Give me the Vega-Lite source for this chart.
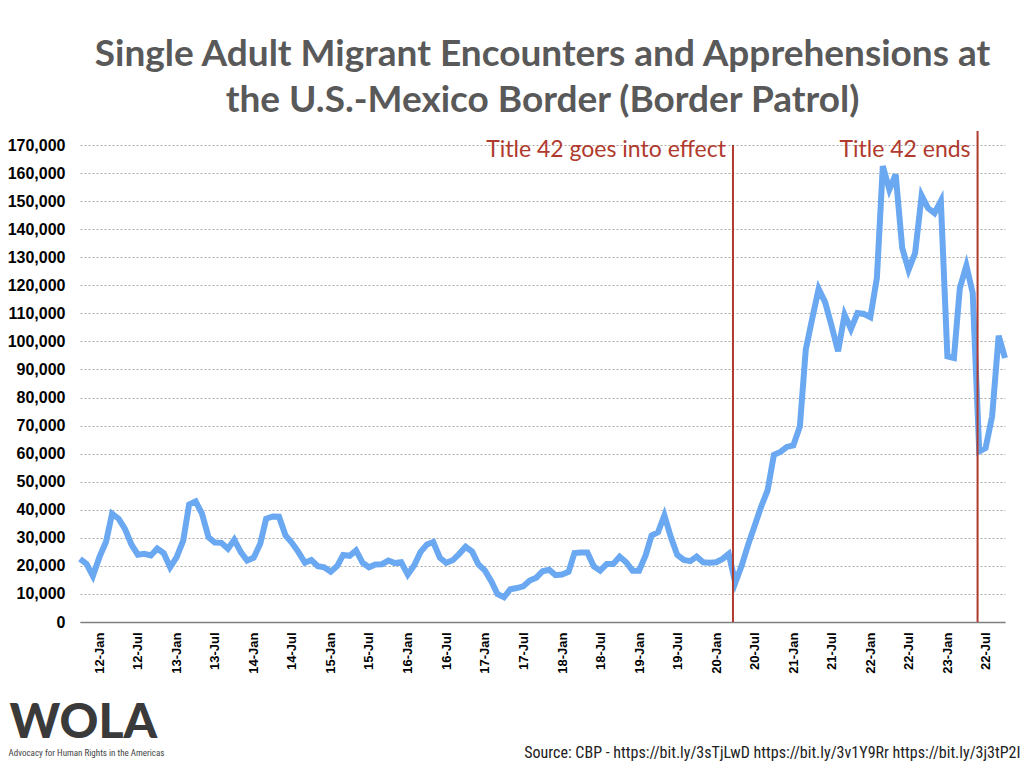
{
  "$schema": "https://vega.github.io/schema/vega-lite/v6.json",
  "width": 925,
  "height": 477,
  "autosize": "none",
  "padding": {"left": 80, "top": 145, "right": 19, "bottom": 146},
  "background": "white",
  "config": {"view": {"stroke": null}},
  "title": {
    "text": ["Single Adult Migrant Encounters and Apprehensions at", "the U.S.-Mexico Border (Border Patrol)"],
    "font": "Lato",
    "fontSize": 37,
    "fontWeight": 700,
    "color": "#595959",
    "anchor": "middle",
    "lineHeight": 46,
    "offset": 10
  },
  "resolve": {"axis": {"y": "independent"}},
  "layer": [
    {
      "data": {
        "format": {"parse": {"date": "date:'%Y-%m'"}},
        "values": [
          {"date": "2011-10", "value": 22500}, {"date": "2011-11", "value": 20700}, {"date": "2011-12", "value": 16400},
          {"date": "2012-01", "value": 23100}, {"date": "2012-02", "value": 28500}, {"date": "2012-03", "value": 38600},
          {"date": "2012-04", "value": 36800}, {"date": "2012-05", "value": 33200}, {"date": "2012-06", "value": 27600},
          {"date": "2012-07", "value": 24000}, {"date": "2012-08", "value": 24300}, {"date": "2012-09", "value": 23700},
          {"date": "2012-10", "value": 26200}, {"date": "2012-11", "value": 24500}, {"date": "2012-12", "value": 19500},
          {"date": "2013-01", "value": 23100}, {"date": "2013-02", "value": 29000}, {"date": "2013-03", "value": 41900},
          {"date": "2013-04", "value": 43000}, {"date": "2013-05", "value": 38600}, {"date": "2013-06", "value": 30200},
          {"date": "2013-07", "value": 28300}, {"date": "2013-08", "value": 28200}, {"date": "2013-09", "value": 26100},
          {"date": "2013-10", "value": 29300}, {"date": "2013-11", "value": 24900}, {"date": "2013-12", "value": 21900},
          {"date": "2014-01", "value": 22900}, {"date": "2014-02", "value": 27900}, {"date": "2014-03", "value": 36800},
          {"date": "2014-04", "value": 37600}, {"date": "2014-05", "value": 37500}, {"date": "2014-06", "value": 30800},
          {"date": "2014-07", "value": 28200}, {"date": "2014-08", "value": 24900}, {"date": "2014-09", "value": 21100},
          {"date": "2014-10", "value": 22100}, {"date": "2014-11", "value": 19900}, {"date": "2014-12", "value": 19500},
          {"date": "2015-01", "value": 17900}, {"date": "2015-02", "value": 20000}, {"date": "2015-03", "value": 23900},
          {"date": "2015-04", "value": 23600}, {"date": "2015-05", "value": 25500}, {"date": "2015-06", "value": 21100},
          {"date": "2015-07", "value": 19500}, {"date": "2015-08", "value": 20500}, {"date": "2015-09", "value": 20600},
          {"date": "2015-10", "value": 21900}, {"date": "2015-11", "value": 21000}, {"date": "2015-12", "value": 21300},
          {"date": "2016-01", "value": 16900}, {"date": "2016-02", "value": 20200}, {"date": "2016-03", "value": 24900},
          {"date": "2016-04", "value": 27600}, {"date": "2016-05", "value": 28500}, {"date": "2016-06", "value": 22900},
          {"date": "2016-07", "value": 21100}, {"date": "2016-08", "value": 22000}, {"date": "2016-09", "value": 24300},
          {"date": "2016-10", "value": 26800}, {"date": "2016-11", "value": 25100}, {"date": "2016-12", "value": 20500},
          {"date": "2017-01", "value": 18300}, {"date": "2017-02", "value": 14400}, {"date": "2017-03", "value": 10000},
          {"date": "2017-04", "value": 8800}, {"date": "2017-05", "value": 11700}, {"date": "2017-06", "value": 12100},
          {"date": "2017-07", "value": 12700}, {"date": "2017-08", "value": 14800}, {"date": "2017-09", "value": 15800},
          {"date": "2017-10", "value": 18100}, {"date": "2017-11", "value": 18600}, {"date": "2017-12", "value": 16700},
          {"date": "2018-01", "value": 16900}, {"date": "2018-02", "value": 17900}, {"date": "2018-03", "value": 24600},
          {"date": "2018-04", "value": 24800}, {"date": "2018-05", "value": 24800}, {"date": "2018-06", "value": 19800},
          {"date": "2018-07", "value": 18300}, {"date": "2018-08", "value": 20700}, {"date": "2018-09", "value": 20700},
          {"date": "2018-10", "value": 23300}, {"date": "2018-11", "value": 21300}, {"date": "2018-12", "value": 18300},
          {"date": "2019-01", "value": 18300}, {"date": "2019-02", "value": 23700}, {"date": "2019-03", "value": 30800},
          {"date": "2019-04", "value": 32000}, {"date": "2019-05", "value": 38000}, {"date": "2019-06", "value": 30200},
          {"date": "2019-07", "value": 23900}, {"date": "2019-08", "value": 22100}, {"date": "2019-09", "value": 21700},
          {"date": "2019-10", "value": 23300}, {"date": "2019-11", "value": 21300}, {"date": "2019-12", "value": 21100},
          {"date": "2020-01", "value": 21300}, {"date": "2020-02", "value": 22500}, {"date": "2020-03", "value": 24300},
          {"date": "2020-04", "value": 14000}, {"date": "2020-05", "value": 20000}, {"date": "2020-06", "value": 27600},
          {"date": "2020-07", "value": 34100}, {"date": "2020-08", "value": 41000}, {"date": "2020-09", "value": 46900},
          {"date": "2020-10", "value": 59600}, {"date": "2020-11", "value": 60600}, {"date": "2020-12", "value": 62400},
          {"date": "2021-01", "value": 62900}, {"date": "2021-02", "value": 69700}, {"date": "2021-03", "value": 97100},
          {"date": "2021-04", "value": 108300}, {"date": "2021-05", "value": 118700}, {"date": "2021-06", "value": 113900},
          {"date": "2021-07", "value": 105600}, {"date": "2021-08", "value": 96500}, {"date": "2021-09", "value": 109500},
          {"date": "2021-10", "value": 104400}, {"date": "2021-11", "value": 110100}, {"date": "2021-12", "value": 109800},
          {"date": "2022-01", "value": 108600}, {"date": "2022-02", "value": 122600}, {"date": "2022-03", "value": 162500},
          {"date": "2022-04", "value": 154100}, {"date": "2022-05", "value": 159500}, {"date": "2022-06", "value": 133300},
          {"date": "2022-07", "value": 125500}, {"date": "2022-08", "value": 131500}, {"date": "2022-09", "value": 152000},
          {"date": "2022-10", "value": 147500}, {"date": "2022-11", "value": 145700}, {"date": "2022-12", "value": 150000},
          {"date": "2023-01", "value": 94700}, {"date": "2023-02", "value": 94100}, {"date": "2023-03", "value": 119000},
          {"date": "2023-04", "value": 127000}, {"date": "2023-05", "value": 117200}, {"date": "2023-06", "value": 60800},
          {"date": "2023-07", "value": 62000}, {"date": "2023-08", "value": 73300}, {"date": "2023-09", "value": 102000},
          {"date": "2023-10", "value": 94100}
        ]
      },
      "mark": {"type": "line", "color": "#6aa8f2", "strokeWidth": 6},
      "encoding": {
        "x": {
          "field": "date",
          "type": "temporal",
          "scale": {"domain": [{"year": 2011, "month": 10, "date": 1}, {"year": 2023, "month": 10, "date": 1}], "nice": false},
          "axis": {
            "values": [
              {"year": 2012, "month": 1, "date": 1}, {"year": 2012, "month": 7, "date": 1},
              {"year": 2013, "month": 1, "date": 1}, {"year": 2013, "month": 7, "date": 1},
              {"year": 2014, "month": 1, "date": 1}, {"year": 2014, "month": 7, "date": 1},
              {"year": 2015, "month": 1, "date": 1}, {"year": 2015, "month": 7, "date": 1},
              {"year": 2016, "month": 1, "date": 1}, {"year": 2016, "month": 7, "date": 1},
              {"year": 2017, "month": 1, "date": 1}, {"year": 2017, "month": 7, "date": 1},
              {"year": 2018, "month": 1, "date": 1}, {"year": 2018, "month": 7, "date": 1},
              {"year": 2019, "month": 1, "date": 1}, {"year": 2019, "month": 7, "date": 1},
              {"year": 2020, "month": 1, "date": 1}, {"year": 2020, "month": 7, "date": 1},
              {"year": 2021, "month": 1, "date": 1}, {"year": 2021, "month": 7, "date": 1},
              {"year": 2022, "month": 1, "date": 1}, {"year": 2022, "month": 7, "date": 1},
              {"year": 2023, "month": 1, "date": 1}, {"year": 2023, "month": 7, "date": 1}
            ],
            "labelExpr": "(year(datum.value) == 2023 && month(datum.value) == 6) ? '22-Jul' : timeFormat(datum.value, '%y-%b')",
            "labelAngle": -90,
            "labelAlign": "right",
            "labelBaseline": "middle",
            "labelFont": "Liberation Sans",
            "labelFontSize": 13,
            "labelFontWeight": "bold",
            "labelColor": "#000000",
            "labelPadding": 10,
            "labelOverlap": false,
            "labelFlush": false,
            "labelBound": false,
            "ticks": false,
            "grid": false,
            "domainColor": "#7f7f7f",
            "domainWidth": 1.5,
            "title": "Source: CBP - https://bit.ly/3sTjLwD https://bit.ly/3v1Y9Rr https://bit.ly/3j3tP2I",
            "titleFont": "Liberation Sans Narrow, Roboto Condensed, Roboto",
            "titleFontSize": 16,
            "titleFontWeight": "normal",
            "titleColor": "#222222",
            "titleAnchor": "end",
            "titleAlign": "right",
            "titleBaseline": "alphabetic",
            "titleX": 940,
            "titleY": 135
          }
        },
        "y": {
          "field": "value",
          "type": "quantitative",
          "scale": {"domain": [0, 170000], "nice": false},
          "axis": {
            "values": [0, 10000, 20000, 30000, 40000, 50000, 60000, 70000, 80000, 90000, 100000, 110000, 120000, 130000, 140000, 150000, 160000, 170000],
            "format": ",d",
            "labelFont": "Liberation Sans",
            "labelFontSize": 16,
            "labelFontWeight": "bold",
            "labelColor": "#000000",
            "labelPadding": 15,
            "ticks": false,
            "domain": false,
            "grid": true,
            "gridColor": "#a8a8a8",
            "gridDash": [2, 2],
            "gridWidth": 1,
            "title": "WOLA",
            "titleAngle": 0,
            "titleAlign": "left",
            "titleBaseline": "alphabetic",
            "titleX": -71,
            "titleY": 592,
            "titleFont": "Lato",
            "titleFontSize": 48,
            "titleFontWeight": 900,
            "titleColor": "#3a3a3a"
          }
        }
      }
    },
    {
      "data": {
        "format": {"parse": {"date": "date:'%Y-%m-%d'"}},
        "values": [{"date": "2020-03-21", "event": "Title 42 goes into effect"}]
      },
      "mark": {"type": "rule", "color": "#b03a2e", "strokeWidth": 2},
      "encoding": {
        "x": {"field": "date", "type": "temporal"},
        "y": {"datum": 0, "type": "quantitative", "axis": null},
        "y2": {"datum": 170000}
      }
    },
    {
      "data": {
        "format": {"parse": {"date": "date:'%Y-%m-%d'"}},
        "values": [{"date": "2023-05-24", "event": "Title 42 ends"}]
      },
      "mark": {"type": "rule", "color": "#b03a2e", "strokeWidth": 2},
      "encoding": {
        "x": {"field": "date", "type": "temporal"},
        "y": {"datum": 0, "type": "quantitative", "axis": null},
        "y2": {"datum": 175000}
      }
    },
    {
      "data": {
        "format": {"parse": {"date": "date:'%Y-%m-%d'"}},
        "values": [
          {"date": "2020-03-21", "event": "Title 42 goes into effect"},
          {"date": "2023-05-24", "event": "Title 42 ends"}
        ]
      },
      "mark": {"type": "text", "align": "right", "baseline": "alphabetic", "dx": -7, "dy": 12, "font": "Lato", "fontSize": 23, "color": "#b03a2e"},
      "encoding": {
        "x": {"field": "date", "type": "temporal"},
        "y": {
          "datum": 170000,
          "type": "quantitative",
          "axis": {
            "orient": "right",
            "labels": false,
            "ticks": false,
            "domain": false,
            "grid": false,
            "title": "Advocacy for Human Rights in the Americas",
            "titleAngle": 0,
            "titleAlign": "left",
            "titleBaseline": "alphabetic",
            "titleX": -997,
            "titleY": 610,
            "titleFont": "Liberation Sans Narrow, Roboto Condensed, Roboto",
            "titleFontSize": 9,
            "titleFontWeight": "normal",
            "titleColor": "#444444"
          }
        },
        "text": {"field": "event"}
      }
    }
  ]
}
